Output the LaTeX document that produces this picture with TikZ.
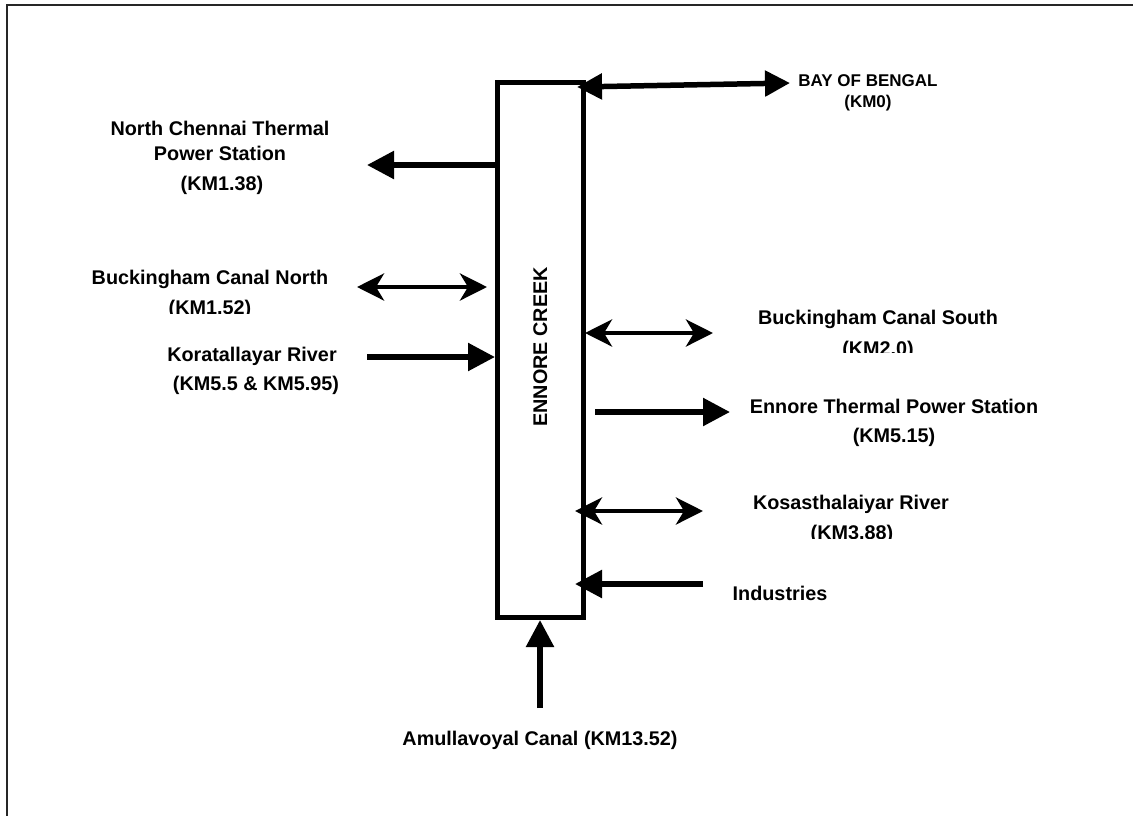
\documentclass[tikz,border=0pt]{standalone}
\usepackage{fontspec}
\setmainfont{Liberation Sans}
\usetikzlibrary{arrows.meta}
\begin{document}
\begin{tikzpicture}[x=1pt,y=-1pt,
  lbl/.style={font=\fontsize{19.8}{23}\selectfont\bfseries, inner sep=0pt, text height=14.2pt, text depth=0pt},
  smalllbl/.style={lbl, font=\fontsize{17}{20}\selectfont\bfseries, text height=12.2pt},
  flow/.style={line width=5.5pt, -{Triangle[length=27pt,width=27pt]}},
  twoway/.style={line width=4.5pt, {Stealth[length=27pt,width=27pt,inset=8pt]}-{Stealth[length=27pt,width=27pt,inset=8pt]}},
  bothtri/.style={line width=5.5pt, {Triangle[length=25pt,width=25pt]}-{Triangle[length=25pt,width=25pt]}},
  creekbox/.style={draw, line width=5pt, minimum width=86pt, minimum height=535pt, inner sep=0pt},
  frame/.style={draw=black!85, line width=2pt}
]
\useasboundingbox (0,0) rectangle (1133,815);
\draw[frame] (7,830) -- (7,5) -- (1150,5);

% main creek box
\node[creekbox] (creek) at (540,350) {};
\node[lbl, rotate=90] (creeklbl) at (540,347) {ENNORE CREEK};

% labels
\node[smalllbl] (bay1) at (868,80) {BAY OF BENGAL};
\node[smalllbl] (bay2) at (868,101) {(KM0)};
\node[lbl] (nc1) at (220,128) {North Chennai Thermal};
\node[lbl] (nc2) at (220,153) {Power Station};
\node[lbl] (nc3) at (222,183) {(KM1.38)};
\node[lbl] (bcn1) at (210,277) {Buckingham Canal North};
\begin{scope}
  \clip (150,290) rectangle (270,313);
  \node[lbl] (bcn2) at (210,307) {(KM1.52)};
\end{scope}
\node[lbl] (kor1) at (252,354) {Koratallayar River};
\node[lbl] (kor2) at (256,383) {(KM5.5 \& KM5.95)};
\node[lbl] (bcs1) at (878,317) {Buckingham Canal South};
\begin{scope}
  \clip (820,330) rectangle (940,352);
  \node[lbl] (bcs2) at (878,348) {(KM2.0)};
\end{scope}
\node[lbl] (etps1) at (894,406) {Ennore Thermal Power Station};
\node[lbl] (etps2) at (894,435) {(KM5.15)};
\node[lbl] (kos1) at (851,502) {Kosasthalaiyar River};
\begin{scope}
  \clip (790,515) rectangle (920,538);
  \node[lbl] (kos2) at (852,532) {(KM3.88)};
\end{scope}
\node[lbl] (ind) at (780,593) {Industries};
\node[lbl] (amu) at (540,738) {Amullavoyal Canal (KM13.52)};

% connector end points
\coordinate (bayL) at (577,87);
\coordinate (bayR) at (790,83);
\coordinate (ncS) at (497,165);
\coordinate (ncE) at (367,165);
\coordinate (bcnL) at (357,287);
\coordinate (bcnR) at (487,287);
\coordinate (korS) at (367,357);
\coordinate (korE) at (495,357);
\coordinate (bcsL) at (585,333);
\coordinate (bcsR) at (713,333);
\coordinate (etS) at (595,412);
\coordinate (etE) at (730,412);
\coordinate (kosL) at (575,511);
\coordinate (kosR) at (703,511);
\coordinate (indS) at (703,584);
\coordinate (indE) at (575,584);
\coordinate (amS) at (540,708);
\coordinate (amE) at (540,620);

% connectors
\draw[bothtri] (bayL) -- (bayR);
\draw[flow] (ncS) -- (ncE);
\draw[twoway] (bcnL) -- (bcnR);
\draw[flow] (korS) -- (korE);
\draw[twoway] (bcsL) -- (bcsR);
\draw[flow] (etS) -- (etE);
\draw[twoway] (kosL) -- (kosR);
\draw[flow] (indS) -- (indE);
\draw[flow] (amS) -- (amE);
\end{tikzpicture}
\end{document}
